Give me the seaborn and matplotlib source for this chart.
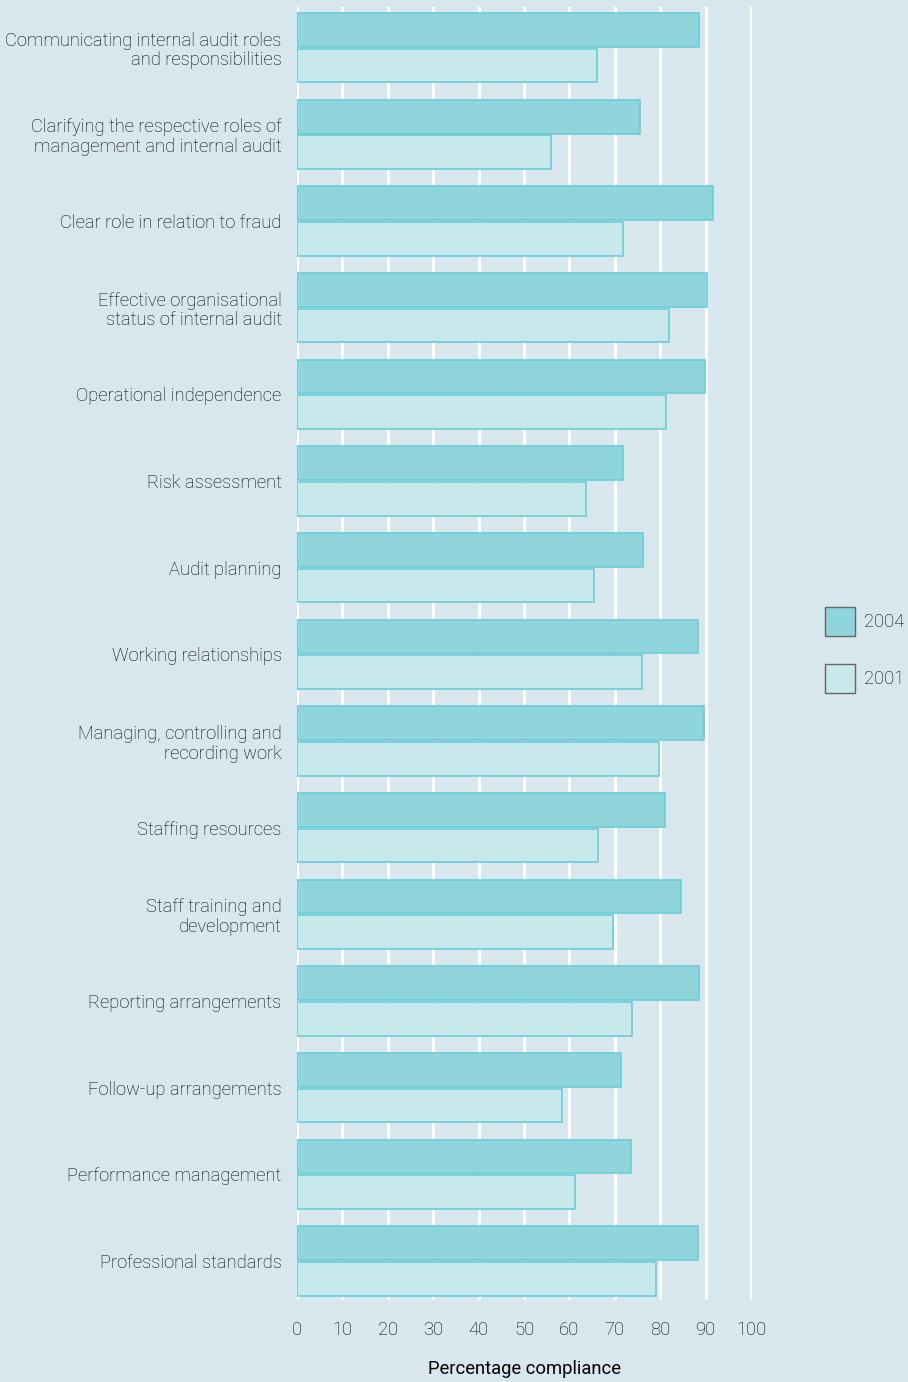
import matplotlib
matplotlib.use("Agg")
import matplotlib.pyplot as plt
from matplotlib.patches import Patch
import seaborn as sns
import pandas as pd

categories = [
    "Communicating internal audit roles\nand responsibilities",
    "Clarifying the respective roles of\nmanagement and internal audit",
    "Clear role in relation to fraud",
    "Effective organisational\nstatus of internal audit",
    "Operational independence",
    "Risk assessment",
    "Audit planning",
    "Working relationships",
    "Managing, controlling and\nrecording work",
    "Staffing resources",
    "Staff training and\ndevelopment",
    "Reporting arrangements",
    "Follow-up arrangements",
    "Performance management",
    "Professional standards",
]
values_2004 = [88.5, 75.5, 91.6, 90.3, 89.9, 71.8, 76.2, 88.3, 89.6, 81.0, 84.6, 88.5, 71.4, 73.6, 88.3]
values_2001 = [66.1, 56.0, 71.8, 81.9, 81.3, 63.7, 65.4, 76.0, 79.7, 66.3, 69.6, 73.8, 58.4, 61.2, 79.1]
series = ["2004", "2001"]
x_ticks = [0, 10, 20, 30, 40, 50, 60, 70, 80, 90, 100]
x_label = "Percentage compliance"

df = pd.DataFrame({
    "category": categories * 2,
    "value": values_2004 + values_2001,
    "year": ["2004"] * len(categories) + ["2001"] * len(categories),
})

bg = "#d8e7ee"
fill = {"2004": "#90d5db", "2001": "#c8e9eb"}
edge = "#6ccdd6"
text_col = "#000000"

sns.set_theme(style="white")
plt.rcParams["font.family"] = ["Roboto", "DejaVu Sans"]
plt.rcParams["font.weight"] = "light"

fig = plt.figure(figsize=(9.08, 13.82), dpi=100)
fig.patch.set_facecolor(bg)
ax = fig.add_axes([297 / 908, 1 - 1300 / 1382, (752 - 297) / 908, (1300 - 7) / 1382])
ax.set_facecolor(bg)

sns.barplot(data=df, y="category", x="value", hue="year", hue_order=series,
            order=categories, palette=fill, orient="h", width=0.82,
            dodge=True, gap=0.05, ax=ax, legend=False, saturation=1)
for cont in ax.containers:
    for bar in cont:
        bar.set_edgecolor(edge)
        bar.set_linewidth(1.2)
        bar.set_zorder(3)

ax.set_xlim(0, 100.2)
ax.set_xticks(x_ticks)
ax.set_xticklabels([str(t) for t in x_ticks])
ax.set_ylim(len(categories) - 0.55, -0.47)
ax.grid(axis="x", color="white", linewidth=2.2, zorder=0)
ax.set_axisbelow(True)
for s in ax.spines.values():
    s.set_visible(False)
ax.tick_params(axis="both", length=0, labelsize=13.2, labelcolor=text_col)
ax.tick_params(axis="x", pad=15)
ax.tick_params(axis="y", pad=11)
for lbl in ax.get_yticklabels() + ax.get_xticklabels():
    lbl.set_fontweight("light")
for lbl in ax.get_yticklabels():
    lbl.set_linespacing(1.12)
ax.set_ylabel("")
ax.set_xlabel(x_label, fontsize=13.2, color=text_col, labelpad=15, fontweight="normal")

handles = [Patch(facecolor=fill[s], edgecolor="#666666", linewidth=1.0) for s in series]
leg = fig.legend(handles, series, loc="center left", bbox_to_anchor=(825 / 908, 1 - 650 / 1382),
                 frameon=False, fontsize=13.2, handlelength=1.65, handleheight=2.0,
                 labelspacing=1.55, handletextpad=0.5, borderaxespad=0, borderpad=0)
for t in leg.get_texts():
    t.set_color(text_col)
    t.set_fontweight("light")

fig.savefig("out.png", dpi=100, facecolor=bg)
